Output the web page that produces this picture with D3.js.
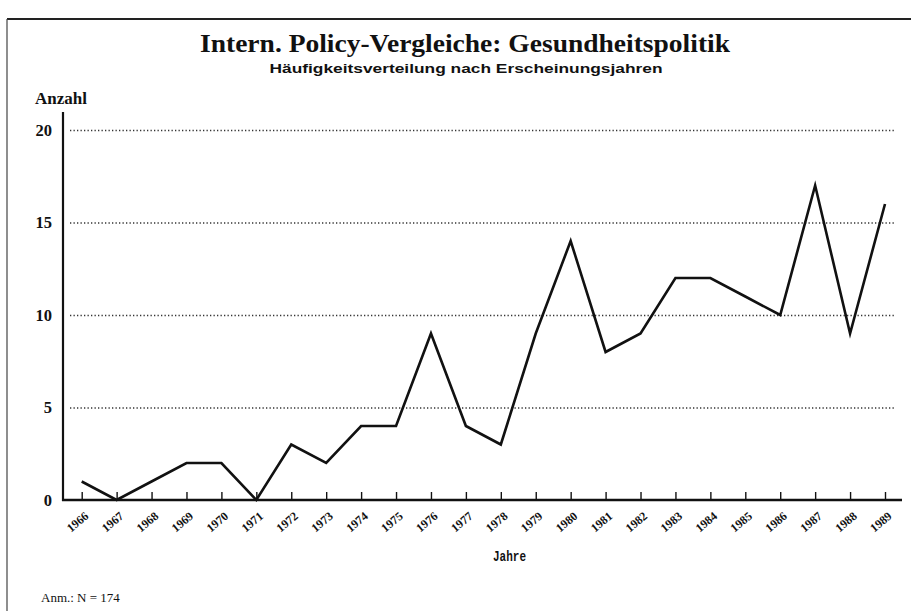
<!DOCTYPE html>
<html>
<head>
<meta charset="utf-8">
<script src="https://cdn.jsdelivr.net/npm/d3@7"></script>
<style>
  html, body { margin: 0; padding: 0; background: #fff; }
  svg { display: block; }
</style>
</head>
<body>
<svg id="chart" width="911" height="611"></svg>
<script>
const years = [1966, 1967, 1968, 1969, 1970, 1971, 1972, 1973, 1974, 1975, 1976, 1977,
               1978, 1979, 1980, 1981, 1982, 1983, 1984, 1985, 1986, 1987, 1988, 1989];
const counts = [1, 0, 1, 2, 2, 0, 3, 2, 4, 4, 9, 4,
                3, 9, 14, 8, 9, 12, 12, 11, 10, 17, 9, 16];
const yTicks = [0, 5, 10, 15, 20];
const titleText = "Intern. Policy-Vergleiche: Gesundheitspolitik";
const subtitleText = "Häufigkeitsverteilung nach Erscheinungsjahren";
const yLabelText = "Anzahl";
const xLabelText = "Jahre";
const noteText = "Anm.: N = 174";

const svg = d3.select("#chart");
const serif = "'Liberation Serif', 'Times New Roman', serif";
const sans = "'Liberation Sans', Arial, sans-serif";

const axisLeftX = 63, axisRightX = 902;
const x = d3.scalePoint().domain(years).range([81.7, 885]);
const y = d3.scaleLinear().domain([0, 20]).range([500, 130]);

// frame
svg.append("line").attr("x1", 7).attr("x2", 911).attr("y1", 19).attr("y2", 19)
  .attr("stroke", "#222").attr("stroke-width", 2);
svg.append("line").attr("x1", 7).attr("x2", 7).attr("y1", 19).attr("y2", 611)
  .attr("stroke", "#444").attr("stroke-width", 1.2);

// titles
svg.append("text").attr("x", 465).attr("y", 52).attr("text-anchor", "middle")
  .attr("font-family", serif).attr("font-weight", "bold").attr("font-size", 25)
  .attr("textLength", 530).attr("lengthAdjust", "spacingAndGlyphs")
  .attr("fill", "#111").text(titleText);
svg.append("text").attr("x", 466).attr("y", 73).attr("text-anchor", "middle")
  .attr("font-family", sans).attr("font-weight", "bold").attr("font-size", 13.5)
  .attr("textLength", 393).attr("lengthAdjust", "spacingAndGlyphs")
  .attr("fill", "#111").text(subtitleText);
svg.append("text").attr("x", 35).attr("y", 104)
  .attr("font-family", serif).attr("font-weight", "bold").attr("font-size", 17)
  .attr("fill", "#111").text(yLabelText);

// dotted gridlines
const grid = svg.append("g").attr("transform", `translate(${axisLeftX},0)`)
  .call(d3.axisRight(y).tickValues(yTicks.filter(d => d > 0))
    .tickSize(axisRightX - axisLeftX - 6).tickFormat(""));
grid.select(".domain").remove();
grid.selectAll(".tick line").attr("stroke", "#333").attr("stroke-width", 1.3)
  .attr("stroke-dasharray", "1.3,2.2").attr("x1", 7);

// y axis labels
const yAxis = svg.append("g").attr("transform", `translate(${axisLeftX},0)`)
  .call(d3.axisLeft(y).tickValues(yTicks).tickSize(0).tickPadding(11));
yAxis.select(".domain").remove();
yAxis.selectAll(".tick text").attr("font-family", serif).attr("font-weight", "bold")
  .attr("font-size", 16.5).attr("fill", "#111");

// y axis line
svg.append("line").attr("x1", axisLeftX).attr("x2", axisLeftX)
  .attr("y1", 112).attr("y2", y(0) + 1)
  .attr("stroke", "#111").attr("stroke-width", 2.2);

// x axis
const xAxis = svg.append("g").attr("transform", `translate(0,${y(0)})`)
  .call(d3.axisBottom(x).tickSizeInner(-8).tickSizeOuter(0).tickPadding(0));
xAxis.select(".domain").remove();
xAxis.selectAll(".tick line").attr("stroke", "#111").attr("stroke-width", 1.4);
xAxis.selectAll(".tick text")
  .attr("font-family", serif).attr("font-weight", "bold").attr("font-size", 12)
  .attr("fill", "#111").attr("text-anchor", "middle").attr("dy", null).attr("y", null)
  .attr("transform", "translate(-2,25) rotate(-40)");
svg.append("line").attr("x1", axisLeftX - 1).attr("x2", axisRightX)
  .attr("y1", y(0)).attr("y2", y(0))
  .attr("stroke", "#111").attr("stroke-width", 2.6);

// data line
const line = d3.line().x((d, i) => x(years[i])).y(d => y(d));
svg.append("path").datum(counts).attr("d", line)
  .attr("fill", "none").attr("stroke", "#111").attr("stroke-width", 2.6)
  .attr("stroke-linejoin", "miter").attr("stroke-miterlimit", 10);

// labels
svg.append("text").attr("x", 493).attr("y", 561)
  .attr("font-family", "'Liberation Mono', monospace").attr("font-weight", "bold")
  .attr("font-size", 14).attr("textLength", 33).attr("lengthAdjust", "spacingAndGlyphs")
  .attr("fill", "#111").text(xLabelText);
svg.append("text").attr("x", 41).attr("y", 602)
  .attr("font-family", serif).attr("font-size", 13)
  .attr("fill", "#111").text(noteText);
</script>
</body>
</html>
